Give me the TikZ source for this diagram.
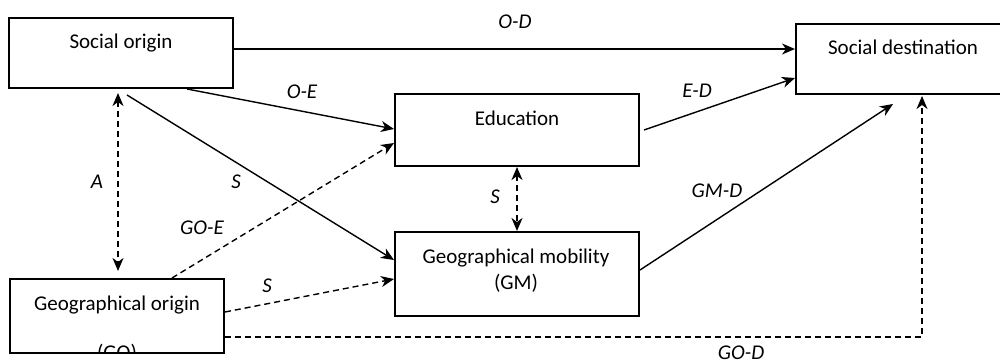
\documentclass[tikz,border=0pt]{standalone}
\usepackage{fontspec}
\setmainfont{Carlito}
\usetikzlibrary{arrows.meta}
\begin{document}
\begin{tikzpicture}[x=1pt,y=-1pt,
  box/.style={draw, line width=2pt, inner sep=0pt},
  txt/.style={anchor=base, inner sep=0pt, font=\fontsize{21}{25}\selectfont},
  lbl/.style={anchor=base, inner sep=0pt, font=\fontsize{21}{25}\selectfont\itshape},
  tip/.tip={Stealth[length=13pt,width=11pt,inset=4pt]},
  arr/.style={line width=1.4pt, -tip},
  darr/.style={arr, dash pattern=on 6pt off 4pt},
  ddarr/.style={line width=1.4pt, dash pattern=on 6pt off 4pt, tip-tip}
]
\useasboundingbox (0,0) rectangle (1000,363);
% boxes
\node[box, minimum width=224pt, minimum height=70pt] (so) at (121,53) {};
\node[box, minimum width=206pt, minimum height=70pt] (sd) at (899,59) {};
\node[box, minimum width=244pt, minimum height=72pt] (ed) at (517,130) {};
\node[box, minimum width=244pt, minimum height=84pt] (gm) at (517,274) {};
\node[box, minimum width=214pt, minimum height=74pt] (go) at (117,316) {};
% box texts
\node[txt] (tso) at (121,49) {Social origin};
\node[txt] (tsd) at (903,55) {Social destination};
\node[txt] (ted) at (517,126) {Education};
\node[txt] (tgm1) at (516,263) {Geographical mobility};
\node[txt] (tgm2) at (516,289) {(GM)};
\node[txt] (tgo1) at (117,310) {Geographical origin};
\begin{scope}
  \clip (10,330) rectangle (224,351);
  \node[txt] (tgo2) at (117,359) {(GO)};
\end{scope}
% connectors
\draw[arr] ([yshift=4pt]so.east) -- ([yshift=10pt]sd.west);
\draw[arr] ([xshift=66pt]so.south) -- ([yshift=1pt]ed.west);
\draw[arr] ([xshift=6pt,yshift=-6pt]so.south) -- ([yshift=14pt]gm.west);
\draw[ddarr] ([xshift=-3pt,yshift=-4pt]so.south) -- ([xshift=1pt,yshift=7pt]go.north);
\draw[darr] ([xshift=55pt]go.north) -- ([yshift=-13pt]ed.west);
\draw[darr] ([yshift=4pt]go.east) -- ([yshift=-5pt]gm.west);
\draw[darr] ([yshift=-21pt]go.east) -| ([xshift=23pt,yshift=-1pt]sd.south);
\draw[arr] ([xshift=4pt]ed.east) -- ([yshift=-19pt]sd.west);
\draw[arr] ([yshift=4pt]gm.east) -- ([xshift=-6pt,yshift=-9pt]sd.south);
\draw[ddarr] (ed.south) -- (gm.north);
% labels
\node[lbl] (lod) at (515,29) {O-D};
\node[lbl] (loe) at (302,99) {O-E};
\node[lbl] (led) at (697,98) {E-D};
\node[lbl] (lgmd) at (717,198) {GM-D};
\node[lbl] (la) at (97,189) {A};
\node[lbl] (ls1) at (236,189) {S};
\node[lbl] (lgoe) at (202,234) {GO-E};
\node[lbl] (ls2) at (267,292) {S};
\node[lbl] (ls3) at (495,204) {S};
\node[lbl] (lgod) at (741,359) {GO-D};
\end{tikzpicture}
\end{document}
